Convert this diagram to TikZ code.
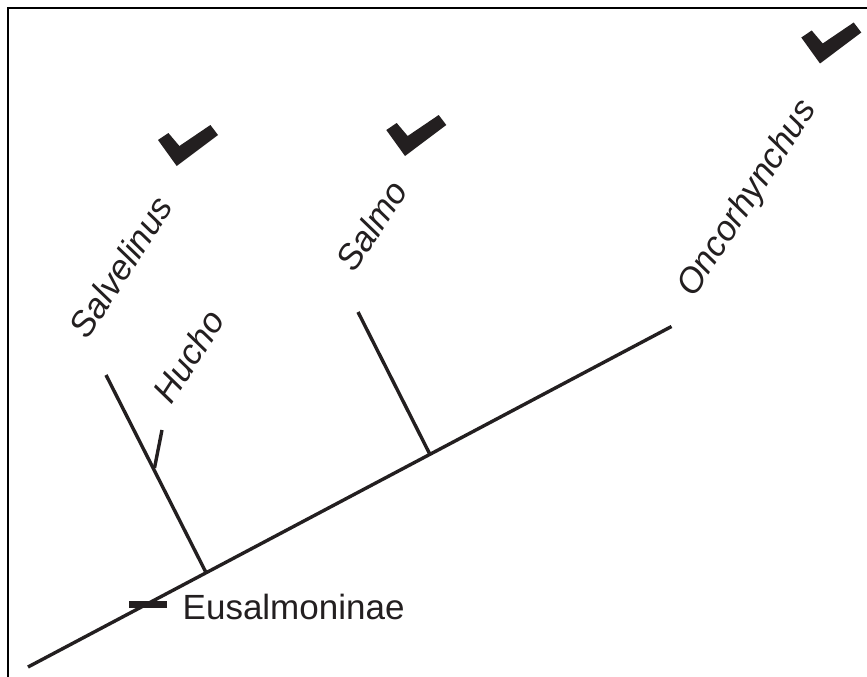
\documentclass[tikz,border=0pt]{standalone}
\usepackage{fontspec}
\setmainfont{Liberation Sans}
\definecolor{ink}{HTML}{231F20}
\tikzset{
  branch/.style={draw=ink, line width=3.4pt, line cap=butt},
  frameline/.style={draw=black, line width=2pt},
  lab/.style={text=ink, inner sep=0pt, font=\fontsize{35}{42}\selectfont\itshape, rotate=57, anchor=center},
  clade/.style={text=ink, inner sep=0pt, font=\fontsize{35}{42}\selectfont, anchor=base west},
  chk/.pic={\fill[ink] (0,0) -- (-18.7,-26) -- (-8.3,-33) -- (2.7,-20) -- (33.7,-41) -- (41.3,-31) -- cycle;}
}
\begin{document}
\begin{tikzpicture}[x=1pt,y=-1pt]
\useasboundingbox[fill=white] (0,0) rectangle (867,677);
% frame
\draw[frameline] (8.3,677) -- (8.3,8.3) -- (867,8.3);
% tree coordinates
\coordinate (root) at (28,667);
\coordinate (tip) at (671.5,326.5);
\coordinate (jS) at (206.5,573.5);
\coordinate (salvT) at (106,375);
\coordinate (jH) at (154.5,468);
\coordinate (huchoT) at (162,430);
\coordinate (jSalmo) at (430,454.5);
\coordinate (salmoT) at (358,312);
\coordinate (barL) at (129,604.5);
\coordinate (barR) at (167,604.5);
% branches
\draw[branch] (root) -- (tip);
\draw[branch] (jS) -- (salvT);
\draw[branch] (jH) -- (huchoT);
\draw[branch] (jSalmo) -- (salmoT);
\draw[draw=ink, line width=7pt] (barL) -- (barR);
% labels
\node[lab] (salv) at (120.5,267) {Salvelinus};
\node[lab] (hucho) at (188.5,356) {Hucho};
\node[lab] (salmo) at (371.5,225.5) {Salmo};
\node[lab] (onco) at (748,199) {Oncorhynchus};
\node[clade] (eus) at (182.5,619.5) {Eusalmoninae};
% check marks
\pic at (176.7,166) {chk};
\pic at (405,156) {chk};
\pic at (820,63.5) {chk};
\end{tikzpicture}
\end{document}
